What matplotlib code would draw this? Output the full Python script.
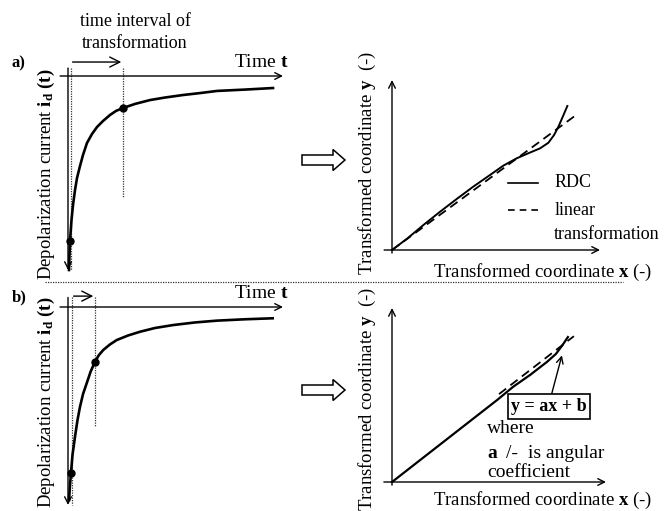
import matplotlib
matplotlib.use("Agg")
import matplotlib.pyplot as plt
import matplotlib.patches as mpatches

plt.rcParams['font.family'] = ['Liberation Serif', 'DejaVu Serif']
plt.rcParams['mathtext.fontset'] = 'custom'
plt.rcParams['mathtext.rm'] = 'Liberation Serif'
plt.rcParams['mathtext.it'] = 'Liberation Serif:italic'
plt.rcParams['mathtext.bf'] = 'Liberation Serif:bold'

# depolarization current, case a) (time, current), arbitrary units
t_a = [0.47, 0.7, 0.93, 1.63, 2.33, 3.26, 4.19, 5.58, 6.98, 8.84, 11.16, 13.49, 16.28,
       19.53, 22.33, 25.58, 31.16, 38.14, 45.1, 53.49, 61.4, 69.3, 82.3, 95.35]
i_a = [-100, -92.3, -85.1, -74.2, -66.5, -58.8, -52.6, -46.4, -40.7, -34.5, -29.9, -26.3,
       -23.2, -20.1, -18.0, -16.5, -14.4, -12.4, -11.1, -9.8, -8.8, -7.7, -7.0, -6.2]
# transformation interval ends, case a)
dots_t_a = [0.93, 25.58]
dots_i_a = [-85.1, -16.5]

# depolarization current, case b)
t_b = [0.47, 0.93, 1.4, 2.09, 3.26, 4.42, 5.58, 6.98, 8.7, 10.47, 12.56, 14.42, 16.42,
       19.53, 22.65, 27.9, 33.49, 40.47, 48.98, 59.07, 69.16, 82.33, 95.2]
i_b = [-97.5, -89.9, -83.7, -74.7, -65.5, -57.1, -50.4, -44.0, -38.5, -32.8, -27.6, -24.2,
       -21.7, -18.9, -16.7, -14.4, -12.5, -10.6, -9.1, -7.8, -6.9, -6.2, -5.7]
dots_t_b = [1.4, 12.56]
dots_i_b = [-83.7, -27.6]

# RDC in transformed coordinates, case a)
x_rdc_a = [0, 7.5, 15.1, 23.1, 31.1, 39.1, 47.1, 53.5, 59.9, 66.3, 71.2, 75.2, 77.9,
           80.0, 82.1, 84.3]
y_rdc_a = [0, 6.9, 14.7, 22.5, 30.0, 37.3, 44.1, 49.6, 53.9, 57.3, 59.8, 63.1, 67.6,
           72.5, 78.4, 84.7]
x_lin_a = [0, 88.5]
y_lin_a = [0, 79.4]

# RDC in transformed coordinates, case b)
x_rdc_b = [0, 49.1, 56.7, 64.5, 72.4, 76.6, 79.4, 82.2]
y_rdc_b = [0, 47.1, 54.8, 61.5, 69.0, 73.6, 78.2, 83.3]
x_lin_b = [50, 85]
y_lin_b = [50.5, 83.8]

W, H = 665, 511
fig = plt.figure(figsize=(W / 100, H / 100), dpi=100)

base = fig.add_axes([0, 0, 1, 1])
base.set_xlim(0, W)
base.set_ylim(H, 0)
base.axis('off')


def panel(left, top, right, bottom, xlim, ylim):
    ax = fig.add_axes([left / W, 1 - bottom / H, (right - left) / W, (bottom - top) / H])
    ax.set_xlim(xlim)
    ax.set_ylim(ylim)
    ax.axis('off')
    return ax


def arrow(ax, start, end, scale=12, lw=1.0):
    ax.annotate('', xy=end, xytext=start, annotation_clip=False,
                arrowprops=dict(arrowstyle='->', lw=lw, color='black',
                                shrinkA=0, shrinkB=0, mutation_scale=scale))


dotted = dict(color='#333333', lw=0.9, ls=(0, (1, 1)), clip_on=False)
curve = dict(color='black', lw=1.9, clip_on=False, solid_joinstyle='round')

# ---- left panels: current vs time ----
ax_la = panel(68, 76, 283, 270, (0, 100), (-100, 0))
ax_lb = panel(68, 307, 283, 505, (0, 100), (-100, 0))

for ax, tt, ii, dt, di, top, dash_end, arr_y in [
        (ax_la, t_a, i_a, dots_t_a, dots_i_a, 4.1, -62.4, 7.2),
        (ax_lb, t_b, i_b, dots_t_b, dots_i_b, 4.8, -60.6, 5.5)]:
    arrow(ax, (-3.7, 0), (100, 0))
    arrow(ax, (0, top), (0, -100))
    ax.plot([dt[0] + 0.4, dt[0] + 0.4], [top, -100], **dotted)
    ax.plot([dt[1], dt[1]], [top, dash_end], **dotted)
    arrow(ax, (dt[0] + 1.2, arr_y), (dt[1] - 0.8, arr_y), scale=18)
    ax.plot(tt, ii, **curve)
    ax.plot(dt, di, 'o', color='black', ms=5, clip_on=False)
    ax.text(77, 2.5, r'Time $\mathbf{t}$', fontsize=14, ha='left', va='bottom')

# ---- right panels: transformed coordinates ----
ax_ra = panel(392, 80, 600, 250, (0, 100), (0, 100))
ax_rb = panel(392, 308, 606, 482, (0, 100), (0, 100))

for ax in (ax_ra, ax_rb):
    arrow(ax, (-3.8, 0), (100, 0))
    arrow(ax, (0, -1.8), (0, 100))

ax_ra.plot(x_rdc_a, y_rdc_a, color='black', lw=1.4, clip_on=False, solid_joinstyle='round')
ax_ra.plot(x_lin_a, y_lin_a, color='black', lw=1.3, ls=(0, (5, 3)), clip_on=False)

ax_rb.plot(x_rdc_b, y_rdc_b, color='black', lw=1.6, clip_on=False, solid_joinstyle='round')
ax_rb.plot(x_lin_b, y_lin_b, color='black', lw=1.3, ls=(0, (5, 3)), clip_on=False)

# legend of case a)
ax_ra.plot([0.56, 0.70], [0.395, 0.395], color='black', lw=1.2, transform=ax_ra.transAxes)
ax_ra.plot([0.56, 0.70], [0.235, 0.235], color='black', lw=1.2, ls=(0, (4, 3)),
           transform=ax_ra.transAxes)
ax_ra.text(0.78, 0.395, 'RDC', fontsize=13, va='center', transform=ax_ra.transAxes)
ax_ra.text(0.78, 0.235, 'linear', fontsize=13, va='center', transform=ax_ra.transAxes)
ax_ra.text(0.78, 0.09, 'transformation', fontsize=13, va='center', transform=ax_ra.transAxes)

# linear part of the RDC in case b)
ax_rb.annotate('y = ax + b', xy=(79.4, 72.8), xytext=(73.4, 43.4),
               fontsize=13, fontweight='bold', ha='center', va='center',
               annotation_clip=False,
               bbox=dict(boxstyle='square,pad=0.2', fc='white', ec='black', lw=1.2),
               arrowprops=dict(arrowstyle='->', lw=1.0, color='black', shrinkA=0,
                               shrinkB=0, mutation_scale=12, relpos=(0.52, 1.0)))
ax_rb.text(44.4, 30.5, 'where', fontsize=14, va='center')
ax_rb.text(44.4, 16.4, 'a', fontsize=14, va='center', fontweight='bold')
ax_rb.text(53.5, 16.4, '/-', fontsize=14, va='center')
ax_rb.text(63.5, 16.4, 'is angular', fontsize=14, va='center')
ax_rb.text(44.4, 5.5, 'coefficient', fontsize=14, va='center')

# ---- labels and decorations in figure pixels ----
for y in (174, 402):
    base.text(46, y, r'Depolarization current $\mathbf{i_d}$ $\mathbf{(t)}$', fontsize=13.5,
              rotation=90, ha='center', va='center')
for y in (163, 399):
    base.text(367, y, r'Transformed coordinate $\mathbf{y}$  (-)', fontsize=13.5,
              rotation=90, ha='center', va='center')
for y in (272, 500):
    base.text(543, y, r'Transformed coordinate $\mathbf{x}$ (-)', fontsize=13.5,
              ha='center', va='center')

base.text(135, 22, 'time interval of', fontsize=13, ha='center', va='center')
base.text(135, 43, 'transformation', fontsize=13, ha='center', va='center')
base.text(12, 63, 'a)', fontsize=12, fontweight='bold', va='center')
base.text(12, 297, 'b)', fontsize=12, fontweight='bold', va='center')

base.plot([45, 623], [282, 282], color='#333333', lw=0.9, ls=(0, (1, 1)))

for yc in (160, 390):
    base.add_patch(mpatches.FancyArrow(302, yc, 43, 0, width=10, head_width=21,
                                       head_length=12, length_includes_head=True,
                                       fc='white', ec='black', lw=1.1))

fig.savefig('out.png', dpi=100)
